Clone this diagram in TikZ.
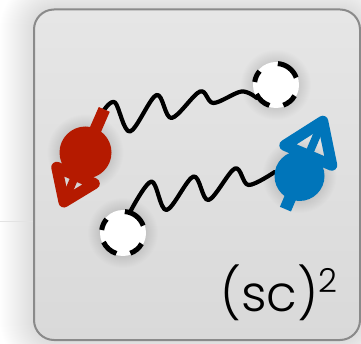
\documentclass[tikz,border=0pt]{standalone}
\usepackage{fontspec}
\setsansfont{Poppins}[UprightFont=* Light]
\usetikzlibrary{calc}

\definecolor{spinred}{RGB}{181,26,0}
\definecolor{spinblue}{RGB}{0,117,186}
\definecolor{framegray}{RGB}{138,138,138}
\definecolor{paneltop}{RGB}{230,230,230}
\definecolor{panelbottom}{RGB}{217,217,217}

\pgfdeclarelayer{bg}
\pgfdeclarelayer{wave}
\pgfsetlayers{bg,wave,main}

\tikzset{
  particle/.style={circle, inner sep=0pt, minimum size=#1, draw=none},
  hole/.style={circle, fill=white, inner sep=0pt, minimum size=46pt, draw=none},
  holedash/.style={line width=5pt, black},
  photon/.style={line width=4.2pt, line cap=round, line join=round, black},
  halo/.style={fill=black, opacity=0.009},
}

% soft dark halo under a round object
\newcommand{\softhalo}[2]{%
  \foreach \k in {1,...,12}{\fill[halo] (#1) circle[radius=#2pt+\k pt];}}

% dashed rim of a hole, drawn as separate arcs
\newcommand{\holerim}[1]{%
  \foreach \a/\b in {20/85,140/172,205/252,290/330}{%
    \draw[holedash] ($(#1.center)+(\a:21.5pt)$) arc[start angle=\a, end angle=\b, radius=21.5pt];}}

\begin{document}
\begin{tikzpicture}[x=1pt,y=-1pt]
\useasboundingbox (0,0) rectangle (361,344);

\begin{pgfonlayer}{bg}
  \fill[white] (0,0) rectangle (361,344);
  % diffuse shadow around the panel
  \foreach \d [evaluate=\d as \rr using 20+\d] in {1,...,34}{
    \fill[black, opacity=0.0036, rounded corners=\rr pt]
      ({34-\d},{9.5-\d}) rectangle ({360+\d},{340+\d});}
  \draw[black!11, line width=0.7pt] (0,221.5) -- (33,221.5);
  % panel
  \shade[top color=paneltop, bottom color=panelbottom, rounded corners=20pt]
    (34,9.5) rectangle (360,340);
  \draw[framegray, line width=2pt, rounded corners=20pt]
    (34,9.5) rectangle (360,340);
  % halos
  \softhalo{276,85}{23}
  \softhalo{123,233}{23}
  \softhalo{85.5,152.5}{26}
  \softhalo{299.5,176}{25}
\end{pgfonlayer}

% holes
\node[hole] (h1) at (276,85) {};
\node[hole] (h2) at (123,233) {};
\holerim{h1}
\holerim{h2}

% spin-down particle
\node[particle=52pt, fill=spinred] (sr) at (85.5,152.5) {};
\begin{scope}[shift={(sr.center)}, rotate=246.5]
  \draw[spinred, line width=12pt] (-47pt,0pt) -- (0pt,0pt);
  \draw[spinred, line width=8pt] (0pt,0pt) -- (52pt,0pt);
  \draw[spinred, line width=11pt, line join=round]
    (25pt,20.5pt) -- (54pt,0pt) -- (25pt,-20.5pt) -- cycle;
  \coordinate (rs) at (-46pt,0pt);
\end{scope}

% spin-up particle
\node[particle=50pt, fill=spinblue] (sb) at (299.5,176) {};
\begin{scope}[shift={(sb.center)}, rotate=67]
  \draw[spinblue, line width=12pt] (-36pt,0pt) -- (0pt,0pt);
  \draw[spinblue, line width=8pt] (0pt,0pt) -- (58pt,0pt);
  \draw[spinblue, line width=11pt, line join=round]
    (22.5pt,25.5pt) -- (59.5pt,0pt) -- (22.5pt,-25.5pt) -- cycle;
\end{scope}

% photon lines
\begin{pgfonlayer}{wave}
  \draw[photon] plot[smooth, tension=0.55] coordinates
    {(rs) (115,102.5) (130,131.5) (156.5,95) (171.5,118) (200,91.5)
     (213.5,103) (241.5,91.5) (h1.214)};
  \draw[photon] plot[smooth, tension=0.55] coordinates
    {(h2.71) (151.5,181.5) (166.5,210) (193.5,176.5) (208.5,200)
     (235,168.5) (248.5,185) (sb.171)};
\end{pgfonlayer}

% label
\node[anchor=base west, inner sep=0pt, font=\sffamily\fontsize{50}{50}\selectfont]
  (lab) at (220,311) {(sc)\raisebox{18pt}{\fontsize{33}{33}\selectfont 2}};
\end{tikzpicture}
\end{document}
